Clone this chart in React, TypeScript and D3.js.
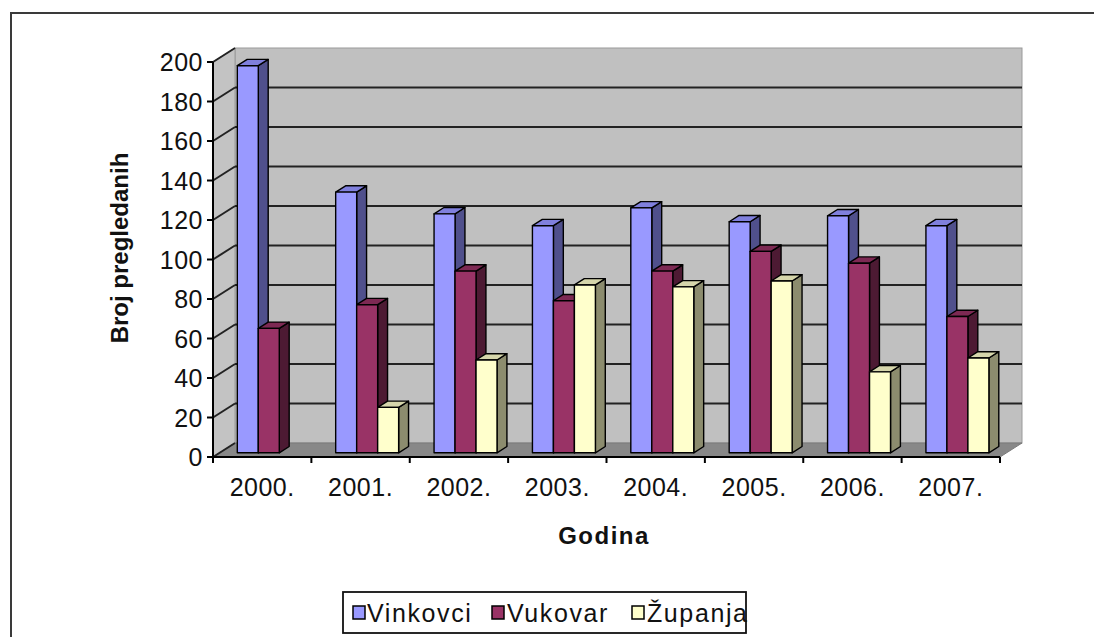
import React from 'react';
import * as d3 from 'd3';

// Number of examined patients per year and town
const years = ['2000.', '2001.', '2002.', '2003.', '2004.', '2005.', '2006.', '2007.'];
const seriesNames = ['Vinkovci', 'Vukovar', 'Županja'];
const vinkovci = [196, 132, 121, 115, 124, 117, 120, 115];
const vukovar = [63, 75, 92, 77, 92, 102, 96, 69];
const zupanja: (number | null)[] = [null, 23, 47, 85, 84, 87, 41, 48];
const yTicks = [0, 20, 40, 60, 80, 100, 120, 140, 160, 180, 200];

const seriesValues = [vinkovci, vukovar, zupanja];
const palette = [
  { front: '#9999ff', top: '#8080dd', side: '#50508c' },
  { front: '#993366', top: '#7d2953', side: '#4d1a33' },
  { front: '#ffffcc', top: '#d6d6ab', side: '#8c8c6e' },
];

const W = 1094;
const H = 637;
const plot = { left: 213, right: 1000, top: 62, bottom: 457 };
const depth = { dx: 22, dy: -14 };
const barFront = 0.3;
const barBack = 0.75;
const FONT = "'Liberation Sans', Arial, sans-serif";

type Pt = [number, number];
const proj = (px: number, py: number, d: number): Pt => [px + depth.dx * d, py + depth.dy * d];
const poly = (pts: Pt[]) => pts.map((p) => p.join(',')).join(' ');

export default function App() {
  const x0 = d3.scaleBand<string>().domain(years).range([plot.left, plot.right]);
  const bw = x0.bandwidth();
  const groupW = bw * 0.64;
  const x1 = d3
    .scaleBand<string>()
    .domain(seriesNames)
    .range([(bw - groupW) / 2, (bw + groupW) / 2]);
  const y = d3.scaleLinear().domain([0, 200]).range([plot.bottom, plot.top]);

  const backL = plot.left + depth.dx;
  const backR = plot.right + depth.dx;
  const backTop = y(200) + depth.dy;
  const backBottom = y(0) + depth.dy;

  const bars: React.ReactNode[] = [];
  years.forEach((yr, i) => {
    seriesNames.forEach((s, j) => {
      const v = seriesValues[j][i];
      if (v == null) return;
      const xa = (x0(yr) as number) + (x1(s) as number);
      const xb = xa + x1.bandwidth();
      const yt = y(v);
      const yb = y(0);
      const c = palette[j];
      const front: Pt[] = [proj(xa, yt, barFront), proj(xb, yt, barFront), proj(xb, yb, barFront), proj(xa, yb, barFront)];
      const top: Pt[] = [proj(xa, yt, barFront), proj(xb, yt, barFront), proj(xb, yt, barBack), proj(xa, yt, barBack)];
      const side: Pt[] = [proj(xb, yt, barFront), proj(xb, yb, barFront), proj(xb, yb, barBack), proj(xb, yt, barBack)];
      bars.push(
        <g key={`${yr}-${s}`} stroke="#000" strokeWidth={1.4} strokeLinejoin="round">
          <polygon points={poly(side)} fill={c.side} />
          <polygon points={poly(top)} fill={c.top} />
          <polygon points={poly(front)} fill={c.front} />
        </g>
      );
    });
  });

  const legendX = 343;
  const legendY = 592;
  const legendItems = [
    { name: seriesNames[0], sx: 353, tx: 367 },
    { name: seriesNames[1], sx: 492, tx: 507 },
    { name: seriesNames[2], sx: 632, tx: 647 },
  ];

  return (
    <div
      style={{
        position: 'fixed',
        left: 0,
        top: 0,
        width: W,
        height: H,
        overflow: 'hidden',
        background: '#fff',
      }}
    >
      <svg width={W} height={H} style={{ display: 'block' }} fontFamily={FONT}>
        <rect x={0} y={0} width={W} height={H} fill="#fff" />
        {/* chart area frame (continues past the right and bottom edges) */}
        <path d={`M${W + 40},13 H11 V${H + 40}`} fill="none" stroke="#3a3a3a" strokeWidth={2} />

        {/* back wall */}
        <rect x={backL} y={backTop} width={backR - backL} height={backBottom - backTop} fill="#c0c0c0" stroke="#9a9a9a" strokeWidth={1} />
        {/* side wall */}
        <polygon
          points={poly([[plot.left, y(200)], [backL, backTop], [backL, backBottom], [plot.left, y(0)]])}
          fill="#c3c3c3"
          stroke="#9a9a9a"
          strokeWidth={1}
        />
        {/* floor */}
        <polygon
          points={poly([[plot.left, y(0)], [backL, backBottom], [backR, backBottom], [plot.right, y(0)]])}
          fill="#888888"
          stroke="#7a7a7a"
          strokeWidth={1}
        />

        {/* gridlines */}
        {yTicks.map((t) => {
          const [bx, by] = proj(plot.left, y(t), 1);
          return (
            <g key={`g${t}`} stroke="#222" strokeWidth={2}>
              <line x1={plot.left} y1={y(t)} x2={bx} y2={by} />
              {t > 0 && t < 200 && <line x1={bx} y1={by} x2={backR} y2={by} />}
            </g>
          );
        })}

        {bars}

        {/* value axis */}
        <line x1={plot.left} y1={y(200)} x2={plot.left} y2={y(0)} stroke="#000" strokeWidth={2} />
        {yTicks.map((t) => (
          <g key={`t${t}`}>
            <line x1={plot.left - 6} y1={y(t)} x2={plot.left} y2={y(t)} stroke="#000" strokeWidth={2} />
            <text
              x={203}
              y={y(t)}
              dy="0.36em"
              textAnchor="end"
              fontSize={25}
              letterSpacing={0.5}
              fill="#111"
            >
              {t}
            </text>
          </g>
        ))}

        {/* category axis */}
        <line x1={plot.left} y1={y(0)} x2={plot.right} y2={y(0)} stroke="#000" strokeWidth={2} />
        {[...years.map((yr) => x0(yr) as number), plot.right].map((xv, i) => (
          <line key={`c${i}`} x1={xv} y1={y(0)} x2={xv} y2={y(0) + 6} stroke="#000" strokeWidth={2} />
        ))}
        {years.map((yr) => (
          <text
            key={`l${yr}`}
            x={(x0(yr) as number) + bw / 2}
            y={496}
            textAnchor="middle"
            fontSize={25}
            letterSpacing={0.5}
            fill="#111"
          >
            {yr}
          </text>
        ))}

        {/* axis titles */}
        <text
          transform="translate(128,248) rotate(-90)"
          textAnchor="middle"
          fontSize={24}
          fontWeight="bold"
          fill="#111"
        >
          Broj pregledanih
        </text>
        <text x={604} y={544} textAnchor="middle" fontSize={24} fontWeight="bold" letterSpacing={1.5} fill="#111">
          Godina
        </text>

        {/* legend */}
        <rect x={legendX} y={legendY} width={403} height={41} fill="#fff" stroke="#111" strokeWidth={1.8} />
        {legendItems.map((it, i) => (
          <g key={it.name}>
            <rect x={it.sx} y={606} width={12} height={13} fill={palette[i].front} stroke="#000" strokeWidth={1.5} />
            <text x={it.tx} y={622} fontSize={25} letterSpacing={1.6} fill="#111">
              {it.name}
            </text>
          </g>
        ))}
      </svg>
    </div>
  );
}
